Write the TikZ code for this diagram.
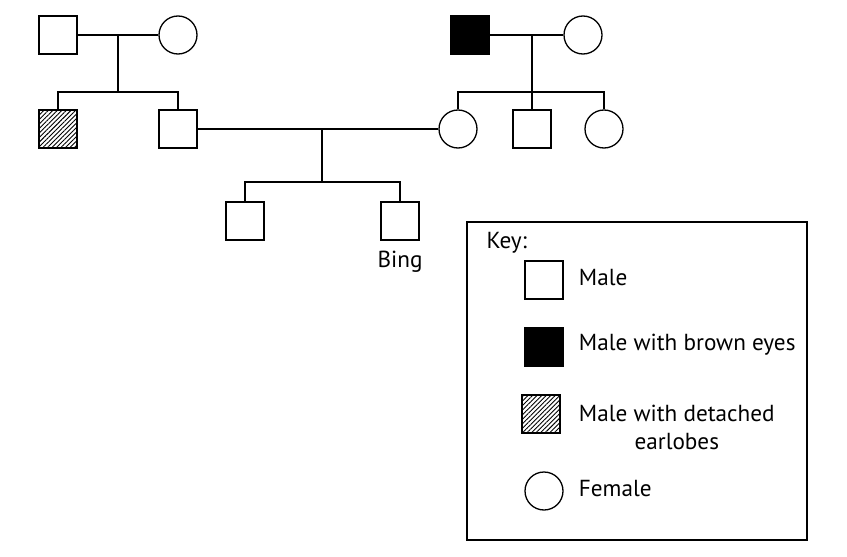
\documentclass[tikz,border=0pt]{standalone}
\usepackage{fontspec}
\setmainfont{PT Sans}
\usetikzlibrary{positioning,patterns.meta}

\begin{document}
\begin{tikzpicture}[x=0.5pt, y=-0.5pt, line width=0.65pt,
	every node/.style={font=\fontsize{11.6}{14}\selectfont},
	male/.style={draw, rectangle, minimum size=19pt, inner sep=0pt},
	female/.style={draw, circle, minimum size=19pt, inner sep=0pt},
	brown/.style={male, fill=black},
	earlobe/.style={male, pattern={Lines[angle=45, distance=1.6pt, line width=0.45pt]}}]
	\useasboundingbox (0,0) rectangle (847,557);
	% first generation
	\node[male] (gfA) at (58,35) {};
	\node[female] (gmA) at (178,35) {};
	\node[brown] (gfB) at (470,35) {};
	\node[female] (gmB) at (583,35) {};
	% second generation
	\node[earlobe] (uncleA) at (58,129) {};
	\node[male] (dad) at (178,129) {};
	\node[female] (mom) at (458,129) {};
	\node[male] (uncleB) at (532,129) {};
	\node[female] (aunt) at (604,129) {};
	% third generation
	\node[male] (bro) at (245,221) {};
	\node[male] (bing) at (400,221) {};
	\node[anchor=base] (binglbl) at (400,267) {Bing};
	% lines
	\coordinate (mA) at (118,35);
	\coordinate (sA) at (118,92);
	\coordinate (mB) at (532,35);
	\coordinate (sB) at (532,92);
	\coordinate (mC) at (322,129);
	\coordinate (sC) at (322,182);
	\draw (gfA) -- (gmA);
	\draw (mA) -- (sA);
	\draw (uncleA.north) |- (sA) -| (dad.north);
	\draw (gfB) -- (gmB);
	\draw (mB) -- (sB);
	\draw (mom.north) |- (sB) -| (aunt.north);
	\draw (sB) -- (uncleB.north);
	\draw (dad) -- (mom);
	\draw (mC) -- (sC);
	\draw (bro.north) |- (sC) -| (bing.north);
	% key
	\draw (467,222) rectangle (807,540);
	\node[anchor=base west, inner sep=0pt] (keylbl) at (486,248) {Key:};
	\node[male] (kmale) at (544,280) {};
	\node[brown] (kbrown) at (544,347) {};
	\node[earlobe] (kearl) at (541,414) {};
	\node[female] (kfem) at (544,491) {};
	\node[right=4pt of kmale, yshift=1pt] (tmale) {Male};
	\node[right=4pt of kbrown, yshift=1pt] (tbrown) {Male with brown eyes};
	\node[right=5.5pt of kearl, yshift=-6.5pt, align=center] (tearl) {Male with detached\\earlobes};
	\node[right=4pt of kfem, yshift=1pt] (tfem) {Female};
\end{tikzpicture}
\end{document}
